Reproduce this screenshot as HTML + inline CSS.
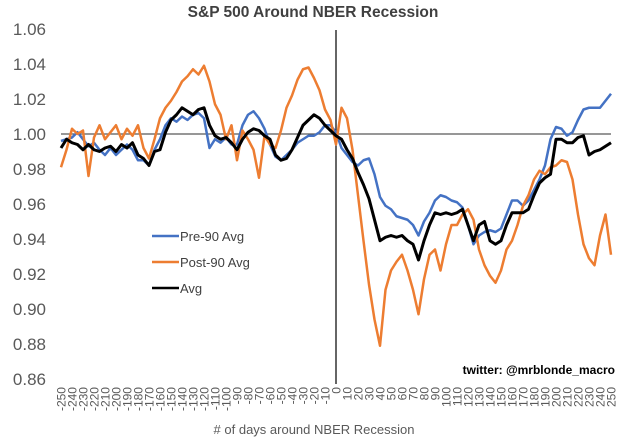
<!DOCTYPE html>
<html><head><meta charset="utf-8"><style>
body{margin:0;background:#fff}
svg{display:block;font-family:"Liberation Sans",sans-serif}
</style></head><body>
<svg id="chart" width="626" height="442" viewBox="0 0 626 442">
<text x="313" y="17" text-anchor="middle" font-size="15.5" font-weight="bold" fill="#404040">S&amp;P 500 Around NBER Recession</text>
<g id="yaxis"></g><g id="xaxis"></g><g id="plot"></g>
<g>
<line x1="152" y1="236" x2="179" y2="236" stroke="#4472C4" stroke-width="2.5"/>
<text x="180" y="241" font-size="13" fill="#404040">Pre-90 Avg</text>
<line x1="152" y1="262" x2="179" y2="262" stroke="#ED7D31" stroke-width="2.5"/>
<text x="180" y="267" font-size="13" fill="#404040">Post-90 Avg</text>
<line x1="152" y1="288" x2="179" y2="288" stroke="#000" stroke-width="2.5"/>
<text x="180" y="293" font-size="13" fill="#404040">Avg</text>
</g>
<text x="615" y="374" text-anchor="end" font-size="12" font-weight="bold" fill="#000">twitter: @mrblonde_macro</text>
<text x="314" y="434" text-anchor="middle" font-size="13" fill="#595959"># of days around NBER Recession</text>
</svg>
<script>
const days = [];
for (let d = -250; d <= 250; d += 5) days.push(d);
const yTicks = [0.86,0.88,0.90,0.92,0.94,0.96,0.98,1.00,1.02,1.04,1.06];
const xTickLabels = [];
for (let d = -250; d <= 250; d += 10) xTickLabels.push(d);
const pre90 = [0.996,0.997,0.998,1.001,0.997,0.993,0.995,0.991,0.988,0.992,0.988,0.991,0.994,0.991,0.985,0.985,0.982,0.991,0.997,1.005,1.009,1.007,1.010,1.008,1.011,1.012,1.009,0.992,0.997,0.995,0.998,0.994,0.994,1.005,1.011,1.013,1.009,1.003,0.994,0.987,0.985,0.988,0.991,0.995,0.997,0.999,0.999,1.001,1.005,1.005,
1.001,0.992,0.988,0.984,0.982,0.985,0.986,0.977,0.964,0.959,0.957,0.953,0.952,0.951,0.948,0.942,0.950,0.955,0.962,0.965,0.964,0.962,0.961,0.958,0.948,0.937,0.942,0.944,0.945,0.944,0.946,0.954,0.962,0.962,0.959,0.962,0.968,0.974,0.982,0.997,1.004,1.003,0.999,1.001,1.008,1.014,1.015,1.015,1.015,1.019,1.023];
const post90 = [0.981,0.991,1.003,1.000,1.002,0.976,0.998,1.005,0.997,1.001,1.005,0.997,1.003,0.999,1.005,0.992,0.986,0.997,1.009,1.015,1.019,1.024,1.030,1.033,1.037,1.034,1.039,1.030,1.017,1.011,0.997,1.005,0.985,1.002,0.997,0.991,0.975,0.999,0.994,0.992,1.002,1.015,1.022,1.031,1.037,1.038,1.032,1.025,1.014,1.008,
0.994,1.015,1.009,0.991,0.965,0.939,0.914,0.894,0.879,0.911,0.922,0.927,0.931,0.922,0.911,0.897,0.917,0.931,0.934,0.922,0.937,0.948,0.948,0.954,0.957,0.951,0.934,0.925,0.919,0.915,0.922,0.934,0.939,0.948,0.959,0.965,0.974,0.979,0.977,0.981,0.982,0.985,0.984,0.974,0.954,0.937,0.929,0.925,0.942,0.954,0.931];
const avg = [0.992,0.997,0.995,0.994,0.991,0.994,0.991,0.990,0.992,0.993,0.990,0.994,0.992,0.995,0.988,0.986,0.982,0.990,0.991,1.001,1.008,1.011,1.015,1.013,1.011,1.014,1.015,1.005,0.999,0.997,0.998,0.995,0.991,0.997,1.001,1.003,1.002,0.999,0.997,0.988,0.985,0.986,0.991,0.998,1.005,1.008,1.011,1.009,1.005,1.002,
0.999,0.997,0.991,0.986,0.978,0.971,0.963,0.951,0.939,0.941,0.942,0.941,0.942,0.939,0.937,0.928,0.939,0.948,0.955,0.954,0.955,0.954,0.955,0.957,0.948,0.939,0.948,0.950,0.939,0.937,0.939,0.948,0.955,0.955,0.955,0.957,0.965,0.972,0.975,0.977,0.997,0.997,0.995,0.995,0.998,0.999,0.988,0.990,0.991,0.993,0.995];

const NS = "http://www.w3.org/2000/svg";
const X = d => 61 + (d + 250) * 1.1;
const Y = v => 134 - (v - 1) * 1750;
function mk(tag, attrs, parent) {
  const e = document.createElementNS(NS, tag);
  for (const k in attrs) e.setAttribute(k, attrs[k]);
  parent.appendChild(e); return e;
}
const yaxis = document.getElementById('yaxis');
yTicks.forEach(v => {
  const t = mk('text', {x: 46, y: Y(v) + 6, 'text-anchor': 'end', 'font-size': 17, fill: '#595959'}, yaxis);
  
  
  t.textContent = v.toFixed(2);
});
const xaxis = document.getElementById('xaxis');
xTickLabels.forEach(d => {
  const x = X(d) + 4.5;
  const t = mk('text', {x: 0, y: 0, 'text-anchor': 'end', 'font-size': 12, fill: '#595959', transform: `translate(${x},387) rotate(-90)`}, xaxis);
  
  
  t.textContent = d;
});
const plot = document.getElementById('plot');
const base = mk('line', {x1: X(-250), x2: X(250), y1: Y(1), y2: Y(1), stroke: '#595959', 'stroke-width': 1.2}, plot);


const vl = mk('line', {x1: X(0), x2: X(0), y1: 30, y2: 384, stroke: '#000', 'stroke-width': 1.2}, plot);


function series(vals, color, w, name) {
  const p = mk('polyline', {points: vals.map((v, i) => X(days[i]) + ',' + Y(v)).join(' '), fill: 'none', stroke: color, 'stroke-width': w, 'stroke-linejoin': 'round'}, plot);
  
  
}
series(pre90, '#4472C4', 2.5, 'pre90-avg-line');
series(post90, '#ED7D31', 2.5, 'post90-avg-line');
series(avg, '#000000', 3, 'avg-line');
</script>
</body></html>
